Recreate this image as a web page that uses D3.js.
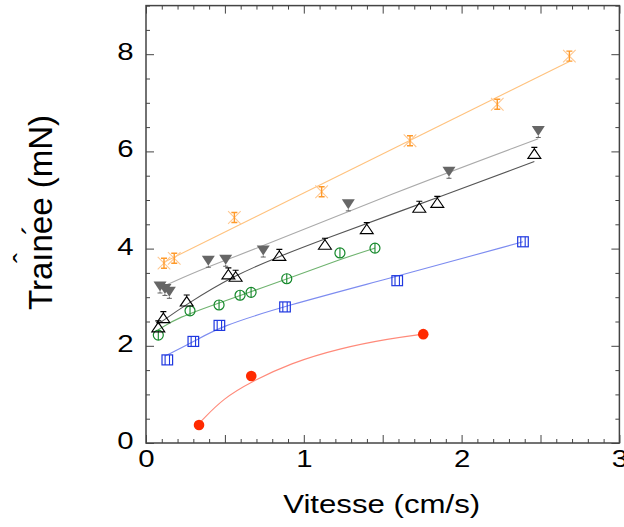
<!DOCTYPE html>
<html><head><meta charset="utf-8">
<script src="https://cdn.jsdelivr.net/npm/d3@7"></script>
<style>html,body{margin:0;padding:0;background:#fff;}</style>
</head><body>
<svg id="c" width="624" height="527"></svg>
<script>
// ---- data ----
const xTickLabels = [0, 1, 2, 3];
const yTickLabels = [0, 2, 4, 6, 8];

const redV = [0.336, 0.667, 1.757];
const redF = [0.37, 1.38, 2.24];
const redFitV = [0.350, 0.490, 0.667, 0.913, 1.229, 1.546, 1.757];
const redFitF = [0.45, 0.92, 1.26, 1.64, 1.95, 2.15, 2.24];

const blueV = [0.135, 0.300, 0.465, 0.881, 1.592, 2.389];
const blueF = [1.71, 2.09, 2.42, 2.80, 3.34, 4.14];
const blueFitV = [0.120, 0.300, 0.465, 0.881, 1.546, 2.389];
const blueFitF = [1.79, 2.08, 2.39, 2.82, 3.39, 4.14];

const greenV = [0.078, 0.279, 0.463, 0.596, 0.666, 0.892, 1.229, 1.451];
const greenF = [2.22, 2.72, 2.84, 3.04, 3.10, 3.38, 3.91, 4.01];
const greenFitV = [0.078, 0.200, 0.469, 0.892, 1.229, 1.451];
const greenFitF = [2.33, 2.58, 2.89, 3.37, 3.78, 4.01];

const triV = [0.078, 0.110, 0.258, 0.522, 0.568, 0.845, 1.134, 1.399, 1.732, 1.846, 2.461];
const triF = [2.38, 2.57, 2.91, 3.47, 3.42, 3.85, 4.08, 4.40, 4.84, 4.94, 5.95];
const triFitV = [0.078, 0.258, 0.553, 0.845, 1.134, 1.546, 2.461];
const triFitF = [2.45, 2.86, 3.44, 3.84, 4.20, 4.69, 5.79];

const grayV = [0.089, 0.120, 0.148, 0.395, 0.505, 0.743, 1.282, 1.920, 2.486];
const grayF = [3.22, 3.17, 3.11, 3.75, 3.77, 3.96, 4.91, 5.58, 6.42];
const grayFitV = [0.120, 0.385, 0.680, 1.546, 2.486];
const grayFitF = [3.24, 3.62, 3.97, 5.12, 6.26];

const orangeV = [0.114, 0.179, 0.560, 1.113, 1.673, 2.226, 2.683];
const orangeF = [3.70, 3.80, 4.64, 5.17, 6.22, 6.97, 7.96];
const orangeFitV = [0.114, 2.683];
const orangeFitF = [3.72, 7.85];

// ---- layout ----
const svg = d3.select("#c");
const x = d3.scaleLinear().domain([0, 3]).range([146, 619.4]);
const y = d3.scaleLinear().domain([0, 9]).range([443, 5.6]);
const FONT = "'Liberation Sans', Arial, Helvetica, sans-serif";
const zip = (a, b) => a.map((v, i) => [v, b[i]]);

// frame ticks
const minorX = d3.range(0, 30.01, 1).map(d => d / 10).filter(d => Math.round(d * 10) % 5 !== 0);
const majorX = d3.range(0, 6.01, 1).map(d => d / 2);
const minorY = d3.range(0, 18.01, 1).map(d => d / 2).filter(d => d % 2 !== 0);
const majorY = [0, 2, 4, 6, 8];
const tickCol = "#444";

function ticks(axisGen, transform) {
  const g = svg.append("g").attr("transform", transform).call(axisGen);
  g.select(".domain").remove();
  g.selectAll("line").attr("stroke", tickCol).attr("stroke-width", 1);
  g.selectAll("text").remove();
}
ticks(d3.axisBottom(x).tickValues(minorX).tickSize(-4), `translate(0,${y(0)})`);
ticks(d3.axisBottom(x).tickValues(majorX).tickSize(-8), `translate(0,${y(0)})`);
ticks(d3.axisTop(x).tickValues(minorX).tickSize(-4), `translate(0,${y(9)})`);
ticks(d3.axisTop(x).tickValues(majorX).tickSize(-8), `translate(0,${y(9)})`);
ticks(d3.axisLeft(y).tickValues(minorY).tickSize(-4), `translate(${x(0)},0)`);
ticks(d3.axisLeft(y).tickValues(majorY).tickSize(-8), `translate(${x(0)},0)`);
ticks(d3.axisRight(y).tickValues(minorY).tickSize(-4), `translate(${x(3)},0)`);
ticks(d3.axisRight(y).tickValues(majorY).tickSize(-8), `translate(${x(3)},0)`);

// frame
svg.append("rect")
  .attr("x", x(0)).attr("y", y(9))
  .attr("width", x(3) - x(0)).attr("height", y(0) - y(9))
  .attr("fill", "none").attr("stroke", "#444").attr("stroke-width", 1.5);

// tick labels
const gx = svg.append("g").attr("transform", `translate(0,${y(0)})`)
  .call(d3.axisBottom(x).tickValues(xTickLabels).tickSize(0).tickFormat(d3.format("d")));
gx.select(".domain").remove();
gx.selectAll("text")
  .attr("y", 24).attr("dy", null)
  .attr("font-family", FONT).attr("font-size", 23.5).attr("fill", "#000")
  .attr("transform", "scale(1.25,1)");

const gy = svg.append("g").attr("transform", `translate(${x(0)},0)`)
  .call(d3.axisLeft(y).tickValues(yTickLabels).tickSize(0).tickFormat(d3.format("d")));
gy.select(".domain").remove();
gy.selectAll("text")
  .attr("x", -10).attr("dy", null).attr("y", 5.5)
  .attr("font-family", FONT).attr("font-size", 23.5).attr("fill", "#000")
  .attr("transform", "scale(1.25,1)");

// axis titles
svg.append("text")
  .attr("x", 381.7).attr("y", 513)
  .attr("text-anchor", "middle")
  .attr("font-family", FONT).attr("font-size", 26.5)
  .attr("textLength", 197).attr("lengthAdjust", "spacingAndGlyphs")
  .text("Vitesse (cm/s)");

svg.append("text")
  .attr("transform", "translate(52,212.5) rotate(-90)")
  .attr("text-anchor", "middle")
  .attr("font-family", FONT).attr("font-size", 33)
  .text("Traınee (mN)");
svg.append("text")
  .attr("transform", "translate(34,258) rotate(-90)")
  .attr("text-anchor", "middle")
  .attr("font-family", FONT).attr("font-size", 30)
  .text("ˆ");
svg.append("text")
  .attr("transform", "translate(43,230) rotate(-90)")
  .attr("text-anchor", "middle")
  .attr("font-family", FONT).attr("font-size", 30)
  .text("´");

// ---- fit lines ----
const line = d3.line().x(d => x(d[0])).y(d => y(d[1])).curve(d3.curveBasis);
const fits = [
  [zip(redFitV, redFitF), "#ff8a7a"],
  [zip(blueFitV, blueFitF), "#7d8cf0"],
  [zip(greenFitV, greenFitF), "#6fb36f"],
  [zip(triFitV, triFitF), "#555555"],
  [zip(grayFitV, grayFitF), "#aaaaaa"],
  [zip(orangeFitV, orangeFitF), "#ffc27e"],
];
fits.forEach(([pts, col]) => {
  svg.append("path").attr("d", line(pts)).attr("fill", "none")
    .attr("stroke", col).attr("stroke-width", 1.1);
});

// ---- markers ----
function place(v, f) { return zip(v, f).map(p => [x(p[0]), y(p[1])]); }

// red filled circles
svg.append("g").selectAll("circle").data(place(redV, redF)).join("circle")
  .attr("cx", d => d[0]).attr("cy", d => d[1]).attr("r", 5.3)
  .attr("fill", "#ff2a00");

// blue squares with inner error bar
const gb = svg.append("g").selectAll("g").data(place(blueV, blueF)).join("g")
  .attr("transform", d => `translate(${d[0]},${d[1]})`);
gb.append("rect").attr("x", -5.3).attr("y", -5).attr("width", 10.6).attr("height", 10)
  .attr("fill", "none").attr("stroke", "#1f38e0").attr("stroke-width", 1.2);
gb.append("path").attr("d", "M-2.2,-5V5M2.2,-5V5")
  .attr("stroke", "#1f38e0").attr("stroke-width", 1.1);

// green open circles with vertical bar
const gg = svg.append("g").selectAll("g").data(place(greenV, greenF)).join("g")
  .attr("transform", d => `translate(${d[0]},${d[1]})`);
gg.append("circle").attr("r", 5).attr("fill", "none")
  .attr("stroke", "#14882a").attr("stroke-width", 1.2);
gg.append("path").attr("d", "M0,-5V5").attr("stroke", "#14882a").attr("stroke-width", 1.1);

// black open triangles with cap on top
const gt = svg.append("g").selectAll("g").data(place(triV, triF)).join("g")
  .attr("transform", d => `translate(${d[0]},${d[1]})`);
gt.append("path").attr("d", "M-6.5,4.5L6.5,4.5L0,-5Z")
  .attr("fill", "none").attr("stroke", "#000").attr("stroke-width", 1.1);
gt.append("path").attr("d", "M0,-5V-6.5M-3,-6.5H3")
  .attr("stroke", "#000").attr("stroke-width", 1.1);

// gray filled down triangles
const gd = svg.append("g").selectAll("g").data(place(grayV, grayF)).join("g")
  .attr("transform", d => `translate(${d[0]},${d[1]})`);
gd.append("path").attr("d", "M-6.5,-5L6.5,-5L0,5Z").attr("fill", "#666");
gd.append("path").attr("d", "M0,5V6.5M-2.5,6.5H2.5").attr("stroke", "#666").attr("stroke-width", 1);

// orange crosses with I-beam error bar
const go = svg.append("g").selectAll("g").data(place(orangeV, orangeF)).join("g")
  .attr("transform", d => `translate(${d[0]},${d[1]})`);
go.append("path").attr("d", "M-6.3,-6.3L6.3,6.3M-6.3,6.3L6.3,-6.3")
  .attr("stroke", "#ffc891").attr("stroke-width", 1.1);
go.append("path").attr("d", "M0,-5V5M-3,-5H3M-3,5H3")
  .attr("stroke", "#ff9a2a").attr("stroke-width", 1.4);
</script>
</body></html>
